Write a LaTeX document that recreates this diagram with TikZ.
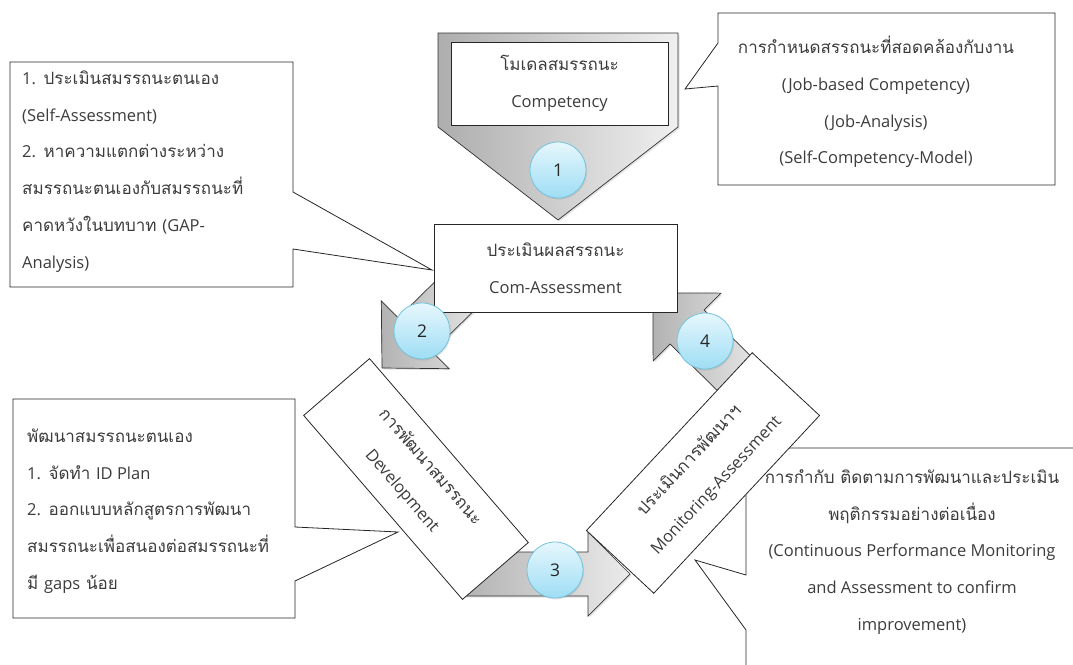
\documentclass[tikz,border=0pt]{standalone}
\usepackage{fontspec}
\newfontfamily\thaifont[Script=Thai]{Loma}
\newfontfamily\latfont[Scale=0.97]{Open Sans}
\newcommand\ltxt[1]{{\latfont #1}}
\usetikzlibrary{shadows}
\definecolor{disctop}{HTML}{E6F7FD}
\definecolor{discbot}{HTML}{9EDDF4}
\definecolor{discline}{HTML}{74C3DC}
\definecolor{inkgray}{HTML}{3C3C3C}
\begin{document}
\begin{tikzpicture}[x=1pt,y=-1pt,
  txt/.style={font={\thaifont\fontsize{17}{36.8}\selectfont}, text=inkgray},
  note/.style={txt, inner sep=0pt},
  callout/.style={draw=black!85, fill=white, line width=0.8pt, line join=miter},
  box/.style={draw=black!85, fill=white, line width=0.8pt, txt, align=center, inner sep=0pt},
  grayarrow/.style={draw=black!80, line width=0.7pt, left color=black!30, right color=black!8,
    drop shadow={opacity=0.22, shadow xshift=1.5pt, shadow yshift=-1.5pt}},
  numdisc/.style={circle, minimum size=56pt, inner sep=0pt, draw=discline, line width=0.8pt,
    top color=disctop, bottom color=discbot, font={\latfont\fontsize{18}{18}\selectfont}, text=black!85,
    drop shadow={opacity=0.2, shadow xshift=1pt, shadow yshift=-1.5pt}}]
\useasboundingbox (0,0) rectangle (1073,664);
\clip (0,0) rectangle (1073,664);

% callout boxes
\draw[callout] (10,62) -- (293,62) -- (293,192) -- (432,270) -- (293,249) -- (293,287) -- (10,287) -- cycle;
\node[note, align=left, anchor=west] (selfassess) at (22,171.5) {\ltxt{1.} ประเมินสมรรถนะตนเอง\\\ltxt{(Self-Assessment)}\\\ltxt{2.} หาความแตกต่างระหว่าง\\สมรรถนะตนเองกับสมรรถนะที่\\คาดหวังในบทบาท \ltxt{(GAP-}\\\ltxt{Analysis)}};

\draw[callout] (718,13) -- (1055,13) -- (1055,185) -- (718,185) -- (718,86) -- (685,89) -- (718,43) -- cycle;
\node[note, align=center] (jobbased) at (876,102) {การกำหนดสรรถนะที่สอดคล้องกับงาน\\\ltxt{(Job-based Competency)}\\\ltxt{(Job-Analysis)}\\\ltxt{(Self-Competency-Model)}};

\draw[callout] (746,448) -- (1085,448) -- (1085,680) -- (746,680) -- (746,630) -- (695,560) -- (746,575) -- cycle;
\node[note, align=center] (continuous) at (912,552) {การกำกับ ติดตามการพัฒนาและประเมิน\\พฤติกรรมอย่างต่อเนื่อง\\\ltxt{(Continuous Performance Monitoring}\\\ltxt{and Assessment to confirm}\\\ltxt{improvement)}};

\draw[callout] (13,399) -- (295,399) -- (295,527) -- (398,532) -- (295,581) -- (295,618) -- (13,618) -- cycle;
\node[note, align=left, anchor=west] (selfdev) at (27,511) {พัฒนาสมรรถนะตนเอง\\\ltxt{1.} จัดทำ \ltxt{ID Plan}\\\ltxt{2.} ออกแบบหลักสูตรการพัฒนา\\สมรรถนะเพื่อสนองต่อสมรรถนะที่\\มี \ltxt{gaps} น้อย};

% cycle arrows
\draw[grayarrow] (381.3,300.9) -- (382,368) -- (449.1,368.7) -- (432.2,351.8) -- (492.5,292.5) -- (458.5,258.5) -- (398.2,317.8) -- cycle;
\draw[grayarrow] (653,293) -- (720.9,293.1) -- (704,310) -- (767.5,372.5) -- (733.5,406.5) -- (670,344) -- (653.1,360.9) -- cycle;
\draw[grayarrow] (463,552) -- (588,552) -- (588,532) -- (630,574) -- (588,616) -- (588,596) -- (463,596) -- cycle;

% competency chevron
\draw[grayarrow, left color=black!32, right color=black!6] (438,33) -- (678,33) -- (678,127) -- (558,220) -- (438,127) -- cycle;
\node[box, minimum width=217pt, minimum height=83pt] (model) at (559.5,83.5) {โมเดลสมรรถนะ\\\ltxt{Competency}};

% stage boxes
\node[box, minimum width=243pt, minimum height=88pt] (comassess) at (555.5,268) {ประเมินผลสรรถนะ\\\ltxt{Com-Assessment}};
\node[box, minimum width=243pt, minimum height=87pt, rotate=-49.2] (develop) at (416,479) {การพัฒนาสมรรถนะ\\\ltxt{Development}};
\node[box, minimum width=243pt, minimum height=92pt, rotate=47] (monitor) at (703,473) {ประเมินการพัฒนาฯ\\\ltxt{Monitoring-Assessment}};

% step numbers
\node[numdisc] (n1) at (558,170) {1};
\node[numdisc] (n2) at (422,331) {2};
\node[numdisc] (n3) at (555,570) {3};
\node[numdisc] (n4) at (705,341) {4};
\end{tikzpicture}
\end{document}
